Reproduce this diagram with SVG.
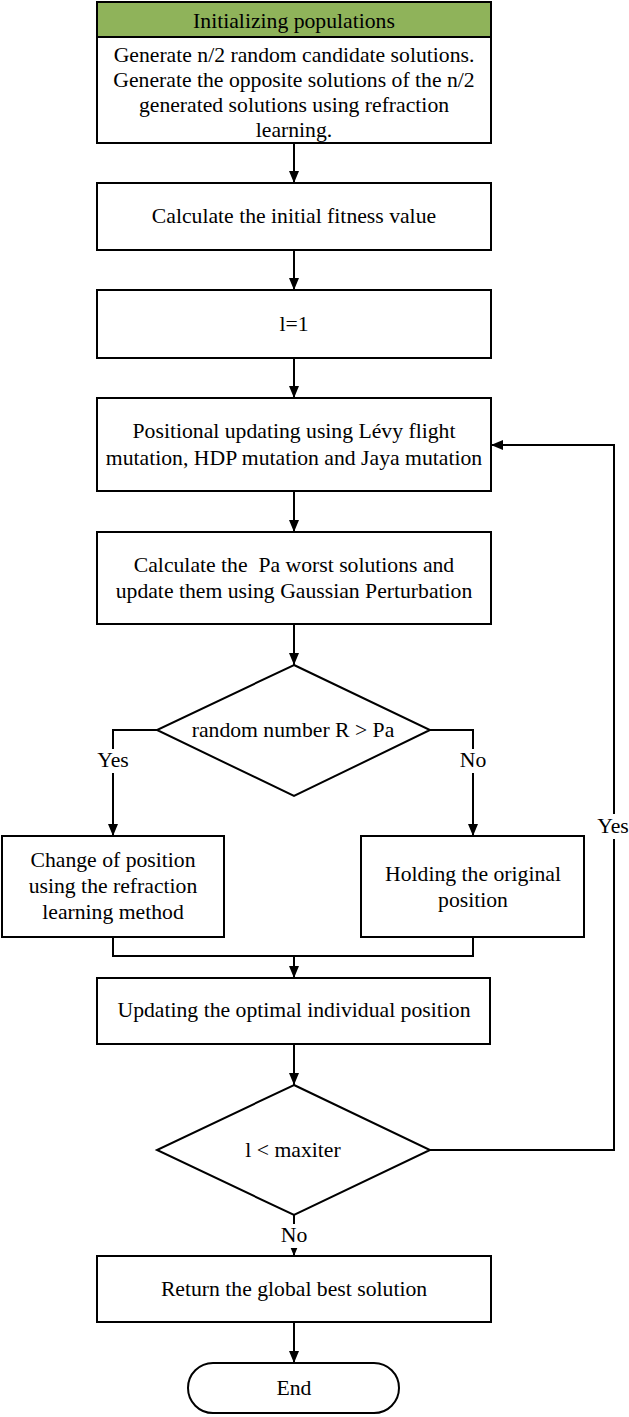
<svg xmlns="http://www.w3.org/2000/svg" width="629" height="1417" viewBox="0 0 629 1417">
<defs>
<style>
.box{fill:#fff;stroke:#000;stroke-width:2}
.hdr{fill:#8fb35a;stroke:#000;stroke-width:2}
.t{font-family:"Liberation Serif","Times New Roman",serif;font-size:21.7px;fill:#000;text-anchor:middle}
.c{fill:none;stroke:#000;stroke-width:2}
.bg{fill:#fff}
</style>
<marker id="ah" markerUnits="userSpaceOnUse" viewBox="0 0 12 10" markerWidth="12" markerHeight="10" refX="12" refY="5" orient="auto">
<path d="M0,0 L12,5 L0,10 z" fill="#000"/>
</marker>
</defs>
<rect width="629" height="1417" fill="#fff"/>

<g id="connectors">
<path class="c" d="M294,143 V183" marker-end="url(#ah)"/>
<path class="c" d="M294,250 V290" marker-end="url(#ah)"/>
<path class="c" d="M294,358 V398" marker-end="url(#ah)"/>
<path class="c" d="M294,491 V532" marker-end="url(#ah)"/>
<path class="c" d="M294,624 V665" marker-end="url(#ah)"/>
<path class="c" d="M157,730 H113 V836" marker-end="url(#ah)"/>
<path class="c" d="M430,730 H473 V836" marker-end="url(#ah)"/>
<path class="c" d="M113,937 V956 H473 V937"/>
<path class="c" d="M294,956 V978" marker-end="url(#ah)"/>
<path class="c" d="M294,1044 V1085" marker-end="url(#ah)"/>
<path class="c" d="M430,1150 H614 V445 H491" marker-end="url(#ah)"/>
<path class="c" d="M294,1215 V1256" marker-end="url(#ah)"/>
<path class="c" d="M294,1322 V1363" marker-end="url(#ah)"/>
<rect class="bg" x="96" y="749" width="34" height="24"/>
<text class="t" x="113" y="767">Yes</text>
<rect class="bg" x="459" y="749" width="28" height="24"/>
<text class="t" x="473" y="767">No</text>
<rect class="bg" x="598" y="814" width="31" height="25"/>
<text class="t" x="613" y="833">Yes</text>
<rect class="bg" x="280" y="1224" width="28" height="24"/>
<text class="t" x="294" y="1242">No</text>
</g>

<g id="init">
<rect class="box" x="97" y="2" width="394" height="141"/>
<rect class="hdr" x="97" y="2" width="394" height="35"/>
<text class="t" x="294" y="28">Initializing populations</text>
<text class="t" x="294" y="62">Generate n/2 random candidate solutions.</text>
<text class="t" x="294" y="87">Generate the opposite solutions of the n/2</text>
<text class="t" x="294" y="112">generated solutions using refraction</text>
<text class="t" x="294" y="137">learning.</text>
</g>

<g id="fitness">
<rect class="box" x="97" y="183" width="394" height="67"/>
<text class="t" x="294" y="223">Calculate the initial fitness value</text>
</g>

<g id="l1">
<rect class="box" x="97" y="290" width="394" height="68"/>
<text class="t" x="294" y="331">l=1</text>
</g>

<g id="posupdate">
<rect class="box" x="97" y="398" width="394" height="93"/>
<text class="t" x="294" y="438">Positional updating using Lévy flight</text>
<text class="t" x="294" y="465">mutation, HDP mutation and Jaya mutation</text>
</g>

<g id="worst">
<rect class="box" x="97" y="532" width="394" height="92"/>
<text class="t" x="294" y="572">Calculate the &#160;Pa worst solutions and</text>
<text class="t" x="294" y="598">update them using Gaussian Perturbation</text>
</g>

<g id="dec1">
<polygon class="box" points="294,665 430,730 294,796 157,730"/>
<text class="t" x="293" y="737">random number R &gt; Pa</text>
</g>

<g id="refraction">
<rect class="box" x="2" y="836" width="222" height="101"/>
<text class="t" x="113" y="867">Change of position</text>
<text class="t" x="113" y="893">using the refraction</text>
<text class="t" x="113" y="919">learning method</text>
</g>

<g id="hold">
<rect class="box" x="361" y="836" width="223" height="101"/>
<text class="t" x="473" y="881">Holding the original</text>
<text class="t" x="473" y="907">position</text>
</g>

<g id="optimal">
<rect class="box" x="97" y="978" width="393" height="66"/>
<text class="t" x="294" y="1017">Updating the optimal individual position</text>
</g>

<g id="dec2">
<polygon class="box" points="294,1085 430,1150 294,1215 157,1150"/>
<text class="t" x="293" y="1157">l &lt; maxiter</text>
</g>

<g id="return">
<rect class="box" x="97" y="1256" width="394" height="66"/>
<text class="t" x="294" y="1296">Return the global best solution</text>
</g>

<g id="end">
<rect class="box" x="188" y="1363" width="211" height="50" rx="25"/>
<text class="t" x="294" y="1395">End</text>
</g>
</svg>
